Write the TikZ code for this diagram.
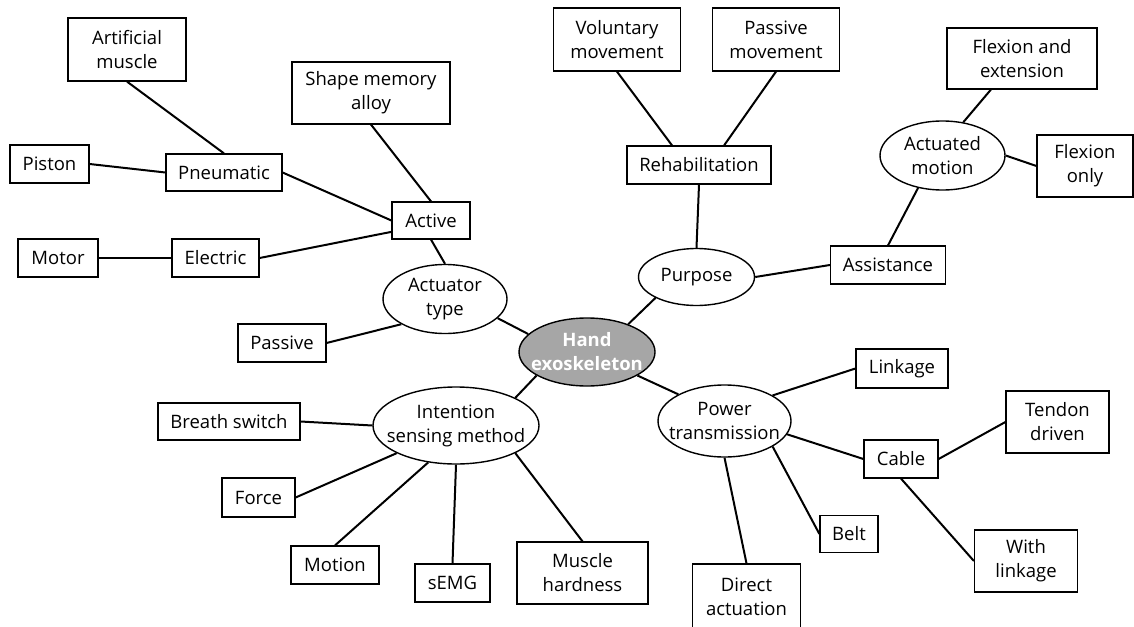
\documentclass[tikz,border=0pt]{standalone}
\usepackage{fontspec}
\setmainfont{Open Sans}
\usetikzlibrary{shapes.geometric}

\begin{document}
\begin{tikzpicture}[x=1pt, y=-1pt,
  box/.style={draw, line width=1.2pt, align=center, inner sep=0pt,
    font=\fontsize{18.5}{24}\selectfont},
  oval/.style={ellipse, draw, line width=1.4pt, align=center,
    inner xsep=-30pt, inner ysep=-15pt, font=\fontsize{18.5}{24}\selectfont},
  link/.style={line width=2pt}]
  \useasboundingbox (0,0) rectangle (1134,626);

  % centre
  \node[oval, fill=black!35, text=white, font=\fontsize{18.5}{24}\selectfont\bfseries,
    minimum width=136, minimum height=68] (hand) at (587,352) {Hand\\exoskeleton};

  % actuator type
  \node[oval, minimum width=124, minimum height=69] (acttype) at (445,299) {Actuator\\type};
  \node[box, minimum width=78, minimum height=37] (active) at (431,220.5) {Active};
  \node[box, minimum width=88, minimum height=38] (passive) at (282,343) {Passive};
  \node[box, minimum width=116, minimum height=37] (pneu) at (224,172.5) {Pneumatic};
  \node[box, minimum width=87, minimum height=38] (elec) at (215.5,258) {Electric};
  \node[box, minimum width=158, minimum height=62] (sma) at (371,93) {Shape memory\\alloy};
  \node[box, minimum width=118, minimum height=63] (artmus) at (127,49.5) {Artificial\\muscle};
  \node[box, minimum width=79, minimum height=38] (piston) at (49.5,164) {Piston};
  \node[box, minimum width=80, minimum height=38] (motor) at (58,258) {Motor};

  % purpose
  \node[oval, minimum width=116, minimum height=57] (purpose) at (696.5,277) {Purpose};
  \node[box, minimum width=144, minimum height=38] (rehab) at (699,165) {Rehabilitation};
  \node[box, minimum width=127, minimum height=63] (voluntary) at (617,39.5) {Voluntary\\movement};
  \node[box, minimum width=127, minimum height=63] (passmov) at (776,39.5) {Passive\\movement};
  \node[box, minimum width=115, minimum height=38] (assist) at (888,265) {Assistance};
  \node[oval, minimum width=125, minimum height=69] (actmot) at (942.5,155.5) {Actuated\\motion};
  \node[box, minimum width=150, minimum height=61] (flexext) at (1022,58.5) {Flexion and\\extension};
  \node[box, minimum width=96, minimum height=62] (flexonly) at (1085,166) {Flexion\\only};

  % intention sensing
  \node[oval, minimum width=166, minimum height=77] (intent) at (456,425.5) {Intention\\sensing method};
  \node[box, minimum width=142, minimum height=37] (breath) at (229,421.5) {Breath switch};
  \node[box, minimum width=73, minimum height=39] (force) at (258.5,497.5) {Force};
  \node[box, minimum width=88, minimum height=38] (motion) at (335,565) {Motion};
  \node[box, minimum width=75, minimum height=38] (semg) at (452.5,583) {sEMG};
  \node[box, minimum width=131, minimum height=62] (hardness) at (582.5,573) {Muscle\\hardness};

  % power transmission
  \node[oval, minimum width=133, minimum height=72] (power) at (724.5,421) {Power\\transmission};
  \node[box, minimum width=92, minimum height=39] (linkage) at (902,368.5) {Linkage};
  \node[box, minimum width=74, minimum height=38] (cable) at (901,459) {Cable};
  \node[box, minimum width=58, minimum height=37] (belt) at (849,534) {Belt};
  \node[box, minimum width=108, minimum height=66] (direct) at (746.5,597) {Direct\\actuation};
  \node[box, minimum width=103, minimum height=62] (tendon) at (1057.5,422) {Tendon\\driven};
  \node[box, minimum width=103, minimum height=62] (withlink) at (1026,561) {With\\linkage};

  % connectors
  \draw[link] (hand.163) -- (acttype.-20);
  \draw[link] (hand.34) -- (purpose.207);
  \draw[link] (hand.205) -- (intent.25);
  \draw[link] (hand.-25) -- (power.150);

  \draw[link] (acttype.north) -- (active.south);
  \draw[link] (acttype.210) -- (passive.east);
  \draw[link] (active.west) -- (pneu.east);
  \draw[link] (active.196) -- (elec.east);
  \draw[link] (active.north) -- (sma.south);
  \draw[link] (pneu.north) -- (artmus.south);
  \draw[link] (pneu.west) -- (piston.east);
  \draw[link] (elec.west) -- (motor.east);

  \draw[link] (purpose.north) -- (rehab.south);
  \draw[link] (rehab.144) -- (voluntary.south);
  \draw[link] (rehab.38) -- (passmov.south);
  \draw[link] (purpose.east) -- (assist.west);
  \draw[link] (assist.north) -- (actmot.233);
  \draw[link] (actmot.58) -- (flexext.225);
  \draw[link] (actmot.east) -- (flexonly.west);

  \draw[link] (intent.west) -- (breath.east);
  \draw[link] (intent.205) -- (force.east);
  \draw[link] (intent.233) -- (motion.north);
  \draw[link] (intent.south) -- (semg.north);
  \draw[link] (intent.-25) -- (hardness.north);

  \draw[link] (power.28) -- (linkage.west);
  \draw[link] (power.-12) -- (cable.west);
  \draw[link] (power.-28) -- (belt.west);
  \draw[link] (power.south) -- (direct.north);
  \draw[link] (cable.east) -- (tendon.west);
  \draw[link] (cable.south) -- (withlink.west);
\end{tikzpicture}
\end{document}
